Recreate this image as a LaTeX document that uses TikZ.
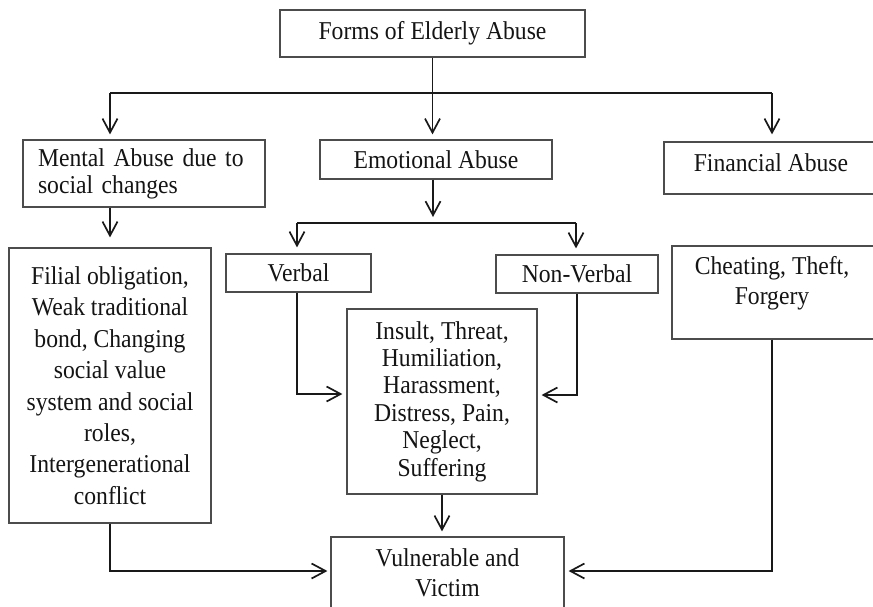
\documentclass[tikz,border=0pt]{standalone}
\usepackage{fontspec}
\setmainfont[FakeStretch=0.92]{Liberation Serif}
\usetikzlibrary{arrows.meta}
\begin{document}
\begin{tikzpicture}[x=1pt,y=-1pt,
  box/.style={draw=black!70, line width=1.2pt, inner sep=0pt, align=center, text=black!92, font=\fontsize{25.7}{30}\selectfont},
  txt/.style={inner sep=0pt, align=center, text=black!92, font=\fontsize{25.7}{30}\selectfont},
  conn/.style={line width=1.7pt, draw=black!90},
  arr/.style={conn, -{Straight Barb[length=14pt,width=15pt]}}]
\useasboundingbox (0,0) rectangle (873,606);
\fill[white] (0,0) rectangle (873,606);

\node[box, minimum width=305, minimum height=47] (top) at (432.5,33.5) {Forms of Elderly Abuse};
\node[box, minimum width=242, minimum height=67, text width=212, align=left, font=\fontsize{25.7}{27}\selectfont] (mental) at (144,173.5) {Mental Abuse due to\\social changes};
\node[box, minimum width=232, minimum height=39] (emo) at (436,159.5) {Emotional Abuse};
\node[box, minimum width=214, minimum height=52, text depth=10pt] (fin) at (771,168) {Financial Abuse};
\node[box, minimum width=145, minimum height=38] (verbal) at (298.5,273) {Verbal};
\node[box, minimum width=162, minimum height=38] (nonv) at (577,274) {Non-Verbal};
\node[box, minimum width=202, minimum height=275, font=\fontsize{25.7}{31.4}\selectfont] (filial) at (110,385.5) {Filial obligation,\\Weak traditional\\bond, Changing\\social value\\system and social\\roles,\\Intergenerational\\conflict};
\node[box, minimum width=190, minimum height=185, font=\fontsize{25.7}{27.4}\selectfont] (mid) at (442,401.5) {Insult, Threat,\\Humiliation,\\Harassment,\\Distress, Pain,\\Neglect,\\Suffering};
\node[box, minimum width=204, minimum height=93] (cheat) at (774,292.5) {};
\node[txt] (cheatT) at (772,283) {Cheating, Theft,\\Forgery};
\node[box, minimum width=233, minimum height=72] (vuln) at (447.5,573) {Vulnerable and\\Victim};

\coordinate (L) at (110,93);
\coordinate (R) at (772,93);
\coordinate (S) at (433,223);
\coordinate (SL) at (297,223);
\coordinate (SR) at (576,223);
\coordinate (VY) at (297,394);
\coordinate (NY) at (577,395);
\coordinate (BY) at (110,571);

\draw[arr, shorten >=5pt] (top.south) -- (top.south |- emo.north);
\draw[conn] (L) -- (R);
\draw[arr, shorten >=5pt] (L) -- (L |- mental.north);
\draw[arr, shorten >=7pt] (R) -- (R |- fin.north);
\draw[arr, shorten >=10pt] (mental.south -| filial.north) -- (filial.north);
\draw[arr, shorten >=6pt] (emo.south -| S) -- (S);
\draw[conn] (SL) -- (SR);
\draw[arr, shorten >=6pt] (SL) -- (SL |- verbal.north);
\draw[arr, shorten >=6pt] (SR) -- (SR |- nonv.north);
\draw[arr, shorten >=4pt] (verbal.south -| VY) |- (mid.west |- VY);
\draw[arr, shorten >=4pt] (nonv.south -| NY) |- (mid.east |- NY);
\draw[arr, shorten >=5pt] (mid.south) -- (mid.south |- vuln.north);
\draw[arr, shorten >=3pt] (filial.south) |- (vuln.west |- BY);
\draw[arr, shorten >=4pt] (cheat.south -| cheatT) |- (vuln.east |- BY);
\end{tikzpicture}
\end{document}
